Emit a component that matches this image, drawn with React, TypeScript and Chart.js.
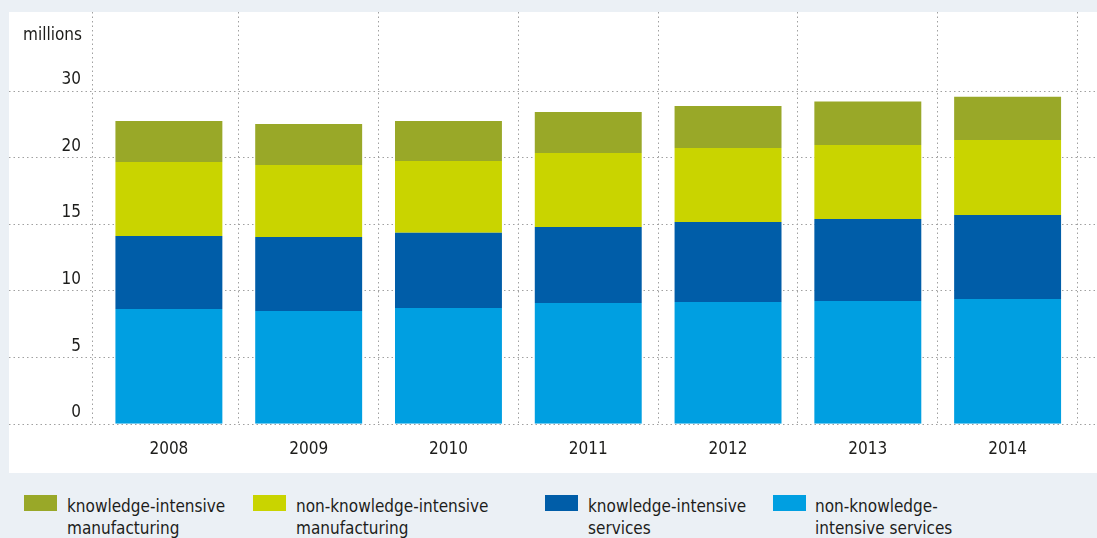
import React, { useEffect, useRef } from "react";
import { Chart, registerables } from "chart.js";

Chart.register(...registerables);

const years = ["2008", "2009", "2010", "2011", "2012", "2013", "2014"];
const nonKnowledgeServices = [8.61, 8.46, 8.69, 9.06, 9.14, 9.21, 9.36];
const knowledgeServices = [5.48, 5.56, 5.65, 5.71, 6.0, 6.16, 6.31];
const nonKnowledgeManufacturing = [5.56, 5.4, 5.38, 5.55, 5.56, 5.55, 5.63];
const knowledgeManufacturing = [3.07, 3.08, 3.0, 3.08, 3.15, 3.26, 3.23];
const yTickValues = [0, 5, 10, 15, 20, 25];
const yTickLabels = ["0", "5", "10", "15", "20", "30"];
const unitLabel = "millions";

const COLORS = {
  kim: "#99a828",
  nkim: "#c9d400",
  kis: "#005da8",
  nkis: "#009fe1",
};

const FONT = "'DejaVu Sans Condensed', 'Liberation Sans Narrow', 'DejaVu Sans', sans-serif";
const TEXT = "#1d1d1b";
const GRID = "#a0a0a0";

const legendItems = [
  { color: COLORS.kim, lines: ["knowledge-intensive", "manufacturing"], x: 24, tx: 67 },
  { color: COLORS.nkim, lines: ["non-knowledge-intensive", "manufacturing"], x: 253, tx: 296 },
  { color: COLORS.kis, lines: ["knowledge-intensive", "services"], x: 545, tx: 588 },
  { color: COLORS.nkis, lines: ["non-knowledge-", "intensive services"], x: 773, tx: 815 },
];

const gridPlugin = {
  id: "customGrid",
  beforeDatasetsDraw(chart: any) {
    const ctx = chart.ctx;
    const y = chart.scales.y;
    const area = chart.chartArea;
    ctx.save();
    ctx.strokeStyle = GRID;
    ctx.lineWidth = 1;
    ctx.setLineDash([1.5, 3]);
    yTickValues.forEach((v) => {
      const py = Math.round(y.getPixelForValue(v)) + 0.5;
      ctx.beginPath();
      ctx.moveTo(0, py);
      ctx.lineTo(chart.width, py);
      ctx.stroke();
    });
    const ax = 83.5;
    ctx.beginPath();
    ctx.moveTo(ax, area.top);
    ctx.lineTo(ax, area.bottom + 2);
    ctx.stroke();
    ctx.restore();
  },
  afterDraw(chart: any) {
    const ctx = chart.ctx;
    ctx.save();
    ctx.fillStyle = TEXT;
    ctx.font = "17px " + FONT;
    ctx.textAlign = "right";
    ctx.textBaseline = "middle";
    ctx.fillText(unitLabel, 73, 24);
    ctx.restore();
  },
};

export default function App() {
  const canvasRef = useRef<HTMLCanvasElement | null>(null);

  useEffect(() => {
    if (!canvasRef.current) return;
    const chart = new Chart(canvasRef.current, {
      type: "bar",
      data: {
        labels: years,
        datasets: [
          { label: "non-knowledge-intensive services", data: nonKnowledgeServices, backgroundColor: COLORS.nkis },
          { label: "knowledge-intensive services", data: knowledgeServices, backgroundColor: COLORS.kis },
          { label: "non-knowledge-intensive manufacturing", data: nonKnowledgeManufacturing, backgroundColor: COLORS.nkim },
          { label: "knowledge-intensive manufacturing", data: knowledgeManufacturing, backgroundColor: COLORS.kim },
        ],
      },
      options: {
        animation: false,
        responsive: true,
        maintainAspectRatio: false,
        layout: { padding: { top: 0, right: 19.5, left: 0, bottom: 0 } },
        datasets: { bar: { barPercentage: 0.765, categoryPercentage: 1, borderWidth: 0 } },
        plugins: { legend: { display: false }, tooltip: { enabled: false } },
        scales: {
          x: {
            stacked: true,
            border: { display: false, dash: [1.5, 3] },
            grid: {
              offset: true,
              drawTicks: false,
              lineWidth: 1,
              color: (c: any) => (c.index === 0 ? "rgba(0,0,0,0)" : GRID),
            } as any,
            ticks: { color: TEXT, font: { family: FONT, size: 17 }, padding: 16 },
            afterFit: (s: any) => {
              s.height = 49.3;
              s.paddingLeft = 0;
              s.paddingRight = 0;
            },
          },
          y: {
            stacked: true,
            min: 0,
            max: 30.9,
            border: { display: false },
            grid: { display: false, drawTicks: false },
            afterBuildTicks: (s: any) => {
              s.ticks = yTickValues.map((v) => ({ value: v }));
            },
            afterFit: (s: any) => {
              s.width = 90;
              s.paddingTop = 0;
              s.paddingBottom = 0;
            },
            ticks: {
              color: TEXT,
              font: { family: FONT, size: 17 },
              padding: 18,
              labelOffset: -11,
              callback: (_v: any, i: number) => yTickLabels[i],
            },
          },
        },
      },
      plugins: [gridPlugin],
    });
    return () => chart.destroy();
  }, []);

  return (
    <div
      style={{
        position: "fixed",
        left: 0,
        top: 0,
        width: 1097,
        height: 538,
        background: "#ebf0f5",
        fontFamily: FONT,
        color: TEXT,
        overflow: "hidden",
      }}
    >
      <div style={{ position: "absolute", left: 9, top: 12, width: 1088, height: 461, background: "#ffffff" }}>
        <div style={{ position: "relative", width: 1088, height: 461 }}>
          <canvas ref={canvasRef} />
        </div>
      </div>
      {legendItems.map((it, i) => (
        <React.Fragment key={i}>
          <div
            style={{
              position: "absolute",
              left: it.x,
              top: 495,
              width: 33,
              height: 16,
              background: it.color,
            }}
          />
          <div
            style={{
              position: "absolute",
              left: it.tx,
              top: 495,
              fontSize: 17,
              lineHeight: "22px",
              whiteSpace: "nowrap",
            }}
          >
            {it.lines.map((l, j) => (
              <div key={j}>{l}</div>
            ))}
          </div>
        </React.Fragment>
      ))}
    </div>
  );
}
